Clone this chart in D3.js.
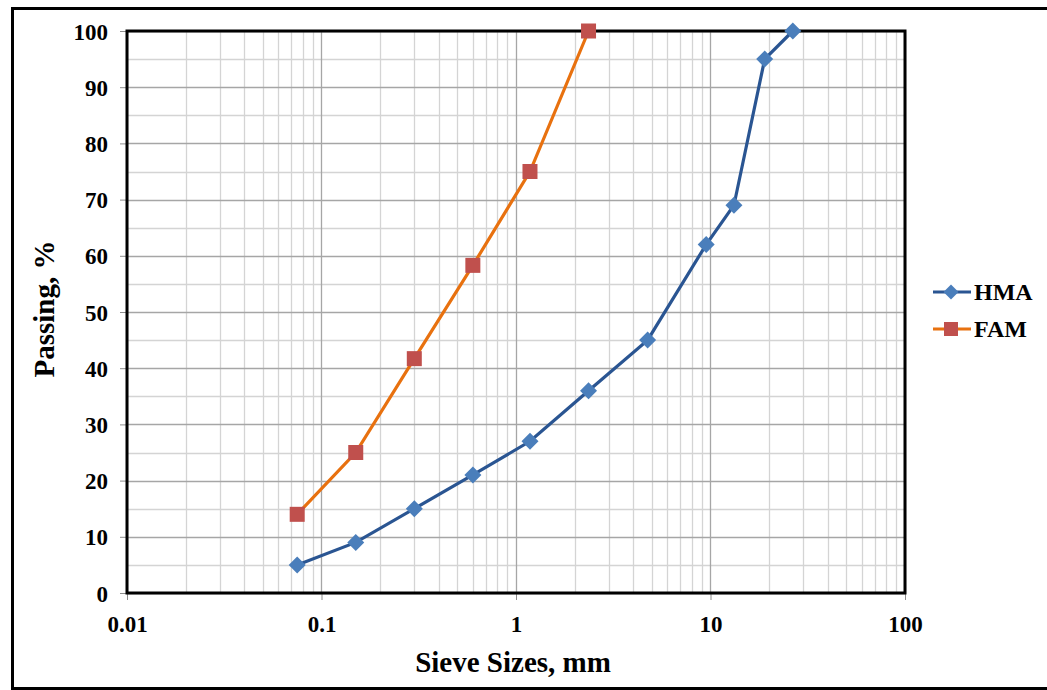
<!DOCTYPE html>
<html>
<head>
<meta charset="utf-8">
<script src="https://cdn.jsdelivr.net/npm/d3@7"></script>
<style>
  html, body { margin: 0; padding: 0; background: #fff; }
  svg { display: block; }
  svg text { font-family: "Liberation Serif", "Times New Roman", serif; font-weight: bold; fill: #000; }
</style>
</head>
<body>
<svg id="chart" width="1047" height="690"></svg>
<script>
// Sieve sizes (mm) and percent passing for each gradation
const hmaSieves = [0.075, 0.15, 0.3, 0.6, 1.18, 2.36, 4.75, 9.5, 13.2, 19, 26.5];
const hmaPassing = [5, 9, 15, 21, 27, 36, 45, 62, 69, 95, 100];
const famSieves = [0.075, 0.15, 0.3, 0.6, 1.18, 2.36];
const famPassing = [14, 25, 41.7, 58.3, 75, 100];

const xTicks = [0.01, 0.1, 1, 10, 100];
const yTicks = [0, 10, 20, 30, 40, 50, 60, 70, 80, 90, 100];
const seriesNames = ["HMA", "FAM"];

const SERIF = "'Liberation Serif', 'Times New Roman', serif";
const svg = d3.select("#chart");
const plotL = 127, plotR = 905, plotT = 31, plotB = 593;

const x = d3.scaleLog().domain([0.01, 100]).range([plotL, plotR]);
const y = d3.scaleLinear().domain([0, 100]).range([plotB, plotT]);

// outer frame
svg.append("path")
  .attr("d", `M1050,8.5 H12.5 V688.5 H1050`)
  .attr("fill", "none").attr("stroke", "#000").attr("stroke-width", 3);

// minor grid
const minorX = [];
for (let d = -2; d < 2; d++) for (let m = 2; m <= 9; m++) minorX.push(m * Math.pow(10, d));
const minorY = d3.range(5, 100, 10);
const grid = svg.append("g");
grid.selectAll(".mx").data(minorX).join("line")
  .attr("x1", d => Math.round(x(d)) + 0.5).attr("x2", d => Math.round(x(d)) + 0.5)
  .attr("y1", plotT).attr("y2", plotB)
  .attr("stroke", "#d4d4d4").attr("stroke-width", 1.3);
grid.selectAll(".my").data(minorY).join("line")
  .attr("x1", plotL).attr("x2", plotR)
  .attr("y1", d => Math.round(y(d)) + 0.5).attr("y2", d => Math.round(y(d)) + 0.5)
  .attr("stroke", "#d4d4d4").attr("stroke-width", 1.3);
// major grid
grid.selectAll(".Mx").data(xTicks).join("line")
  .attr("x1", d => Math.round(x(d)) + 0.5).attr("x2", d => Math.round(x(d)) + 0.5)
  .attr("y1", plotT).attr("y2", plotB)
  .attr("stroke", "#a6a6a6").attr("stroke-width", 1.3);
grid.selectAll(".My").data(yTicks).join("line")
  .attr("x1", plotL).attr("x2", plotR)
  .attr("y1", d => Math.round(y(d)) + 0.5).attr("y2", d => Math.round(y(d)) + 0.5)
  .attr("stroke", "#a6a6a6").attr("stroke-width", 1.3);

// axes
const yAxis = svg.append("g").attr("transform", `translate(${plotL},0)`)
  .call(d3.axisLeft(y).tickValues(yTicks).tickSize(7).tickPadding(12).tickFormat(d3.format("d")));
const xAxis = svg.append("g").attr("transform", `translate(0,${plotB})`)
  .call(d3.axisBottom(x).tickValues(xTicks).tickSize(7).tickPadding(16).tickFormat(d => String(d)));
[yAxis, xAxis].forEach(g => {
  g.attr("font-family", SERIF).attr("font-size", 23).attr("font-weight", "bold");
  g.select(".domain").remove();
  g.selectAll(".tick line").attr("stroke", "#8c8c8c");
  g.selectAll(".tick text").attr("fill", "#000")
    .attr("font-family", SERIF).attr("font-weight", "bold").attr("font-size", 23);
});
yAxis.selectAll(".tick text").attr("dy", "0.35em");

// plot frame
svg.append("rect").attr("x", plotL).attr("y", plotT)
  .attr("width", plotR - plotL).attr("height", plotB - plotT)
  .attr("fill", "none").attr("stroke", "#000").attr("stroke-width", 3);

// axis titles
svg.append("text").attr("x", 513).attr("y", 672).attr("text-anchor", "middle")
  .attr("font-family", SERIF).attr("font-weight", "bold").attr("font-size", 29)
  .text("Sieve Sizes, mm");
svg.append("text").attr("transform", "translate(54,309) rotate(-90)").attr("text-anchor", "middle")
  .attr("font-family", SERIF).attr("font-weight", "bold").attr("font-size", 29)
  .text("Passing, %");

// series
const line = d3.line().x(d => x(d[0])).y(d => y(d[1]));
const hma = d3.zip(hmaSieves, hmaPassing);
const fam = d3.zip(famSieves, famPassing);
const hmaLine = "#2a5592", hmaMark = "#4a7ebb";
const famLine = "#e8710f", famMark = "#c0504d";
const diamond = s => `M0,${-s} L${s},0 L0,${s} L${-s},0 Z`;

svg.append("path").datum(hma).attr("d", line)
  .attr("fill", "none").attr("stroke", hmaLine).attr("stroke-width", 3.2);
svg.selectAll(".hm").data(hma).join("path")
  .attr("transform", d => `translate(${x(d[0])},${y(d[1])})`)
  .attr("d", diamond(8.5)).attr("fill", hmaMark);

svg.append("path").datum(fam).attr("d", line)
  .attr("fill", "none").attr("stroke", famLine).attr("stroke-width", 3.2);
svg.selectAll(".fm").data(fam).join("rect")
  .attr("x", d => x(d[0]) - 7.5).attr("y", d => y(d[1]) - 7.5)
  .attr("width", 15).attr("height", 15).attr("fill", famMark);

// legend
const legend = svg.append("g");
const legY = [292, 329];
const cols = [[hmaLine, hmaMark], [famLine, famMark]];
seriesNames.forEach((name, i) => {
  const g = legend.append("g").attr("transform", `translate(0,${legY[i]})`);
  g.append("line").attr("x1", 933).attr("x2", 971).attr("y1", 0).attr("y2", 0)
    .attr("stroke", cols[i][0]).attr("stroke-width", 3.2);
  if (i === 0) g.append("path").attr("transform", "translate(951,0)").attr("d", diamond(7.5)).attr("fill", cols[i][1]);
  else g.append("rect").attr("x", 944).attr("y", -7).attr("width", 14).attr("height", 14).attr("fill", cols[i][1]);
  g.append("text").attr("x", 974).attr("y", 0).attr("dy", "0.35em")
    .attr("font-family", SERIF).attr("font-weight", "bold").attr("font-size", 24)
    .text(name);
});
</script>
</body>
</html>
